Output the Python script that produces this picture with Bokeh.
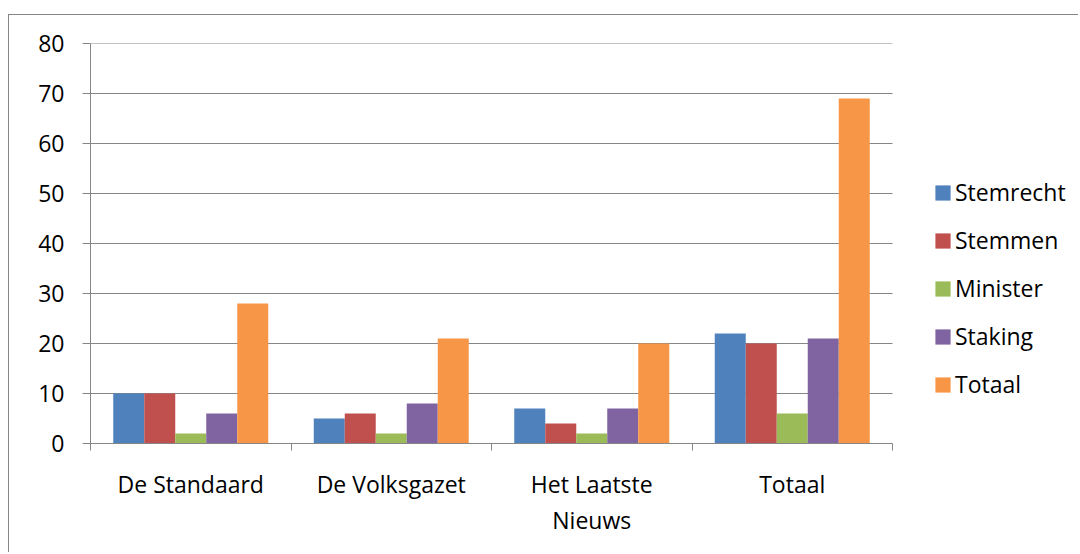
from bokeh.plotting import figure
from bokeh.models import Range1d, FixedTicker, Legend, LegendItem
from bokeh.embed import file_html
from bokeh.resources import INLINE

# ---- data ----
categories = ["De Standaard", "De Volksgazet", "Het Laatste Nieuws", "Totaal"]
category_labels = ["De Standaard", "De Volksgazet", "Het Laatste\nNieuws", "Totaal"]
series_names = ["Stemrecht", "Stemmen", "Minister", "Staking", "Totaal"]
stemrecht = [10, 5, 7, 22]
stemmen = [10, 6, 4, 20]
minister = [2, 2, 2, 6]
staking = [6, 8, 7, 21]
totaal = [28, 21, 20, 69]
y_ticks = [0, 10, 20, 30, 40, 50, 60, 70, 80]

series_values = [stemrecht, stemmen, minister, staking, totaal]
colors = ["#4F81BD", "#C0504D", "#9BBB59", "#8064A2", "#F79646"]

FONT = "Open Sans"
FS = "23px"
GRAY = "#868686"

n = len(categories)
FIG_W, FIG_H = 1070, 538
BORDER_L = 81
PLOT_W = 802          # pixel width of the category area
frame_w = FIG_W - BORDER_L
x_end = -0.5 + n * frame_w / PLOT_W

p = figure(width=FIG_W, height=FIG_H,
           x_range=Range1d(-0.5, x_end),
           y_range=Range1d(0, 80),
           output_backend="svg", toolbar_location=None,
           min_border_left=BORDER_L, min_border_right=0,
           min_border_top=28, min_border_bottom=110,
           margin=(14, 0, 0, 8),
           styles={"border-left": "1px solid #868686", "border-top": "1px solid #868686"})
p.outline_line_color = None
p.xgrid.visible = False
p.ygrid.visible = False

# horizontal gridlines limited to the category area
p.segment(x0=[-0.5] * len(y_ticks), x1=[n - 0.5] * len(y_ticks), y0=y_ticks, y1=y_ticks,
          line_color=GRAY, line_width=1)

# y axis
ya = p.yaxis[0]
ya.ticker = FixedTicker(ticks=y_ticks)
ya.axis_line_color = GRAY
ya.major_tick_line_color = GRAY
ya.major_tick_in = 0
ya.major_tick_out = 8
ya.minor_tick_line_color = None
ya.major_label_standoff = 18
ya.major_label_text_font = FONT
ya.major_label_text_font_size = FS
ya.major_label_text_color = "#000000"

# x axis
xa = p.xaxis[0]
xa.bounds = (-0.5, n - 0.5)
xa.ticker = FixedTicker(ticks=list(range(n)), minor_ticks=[i - 0.5 for i in range(n + 1)])
xa.major_label_overrides = {i: category_labels[i] for i in range(n)}
xa.axis_line_color = GRAY
xa.major_tick_line_color = None
xa.major_tick_in = 0
xa.major_tick_out = 0
xa.minor_tick_line_color = GRAY
xa.minor_tick_in = 0
xa.minor_tick_out = 7
xa.major_label_standoff = 17
xa.major_label_text_font = FONT
xa.major_label_text_font_size = FS
xa.major_label_text_color = "#000000"
xa.major_label_text_line_height = 1.15

# bars
bar_w = 0.1546
items = []
for j, (name, vals, col) in enumerate(zip(series_names, series_values, colors)):
    xs = [i + (j - 2) * bar_w for i in range(n)]
    r = p.vbar(x=xs, top=vals, width=bar_w, bottom=0, fill_color=col, line_color=None)
    items.append(LegendItem(label=name, renderers=[r]))

legend = Legend(items=items, location=(843, 43),
                glyph_width=19, glyph_height=19, label_standoff=3,
                label_height=32, spacing=16, padding=0, margin=0,
                border_line_color=None, background_fill_alpha=0,
                label_text_font=FONT, label_text_font_size=FS,
                label_text_color="#000000")
p.add_layout(legend)

open("out.html", "w").write(file_html(p, INLINE))
